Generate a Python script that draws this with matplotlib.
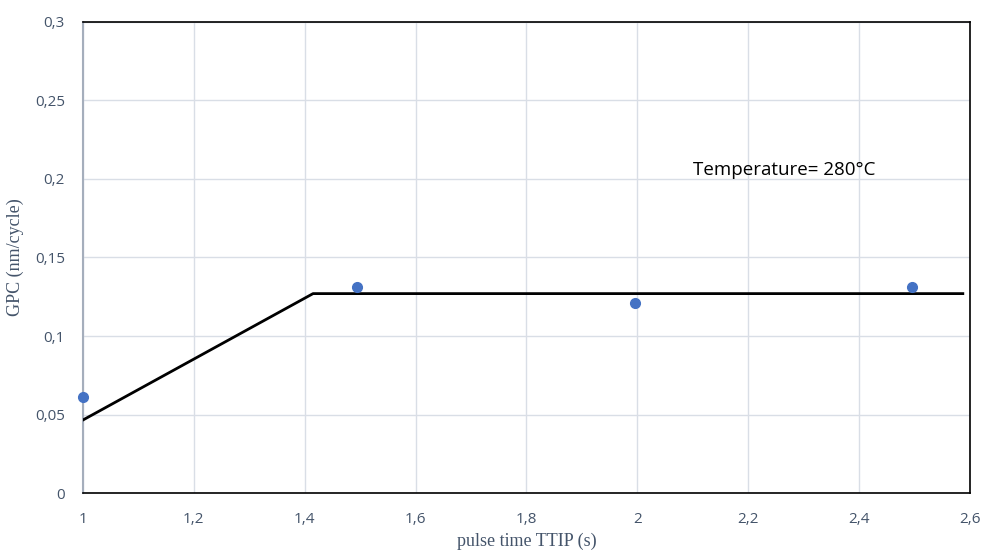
import matplotlib.pyplot as plt
from matplotlib.ticker import FuncFormatter, MultipleLocator

# datos medidos
pulse_time = [1.0, 1.495, 1.995, 2.495]
gpc = [0.061, 0.131, 0.121, 0.131]

# tendencia (saturacion)
trend_x = [1.0, 1.415, 2.587]
trend_y = [0.0465, 0.127, 0.127]

tick_color = '#44546A'

fig = plt.figure(figsize=(9.83, 5.54), dpi=100)
ax = fig.add_axes([0.0844, 0.1101, 0.9024, 0.8502])

ax.plot(trend_x, trend_y, color='black', lw=2, zorder=3)
ax.plot(pulse_time, gpc, 'o', color='#4472C4', ms=7, zorder=4, clip_on=False)

ax.set_xlim(1, 2.6)
ax.set_ylim(0, 0.3)
ax.xaxis.set_major_locator(MultipleLocator(0.2))
ax.yaxis.set_major_locator(MultipleLocator(0.05))

fmt = FuncFormatter(lambda v, p: ('%g' % round(v, 2)).replace('.', ','))
ax.xaxis.set_major_formatter(fmt)
ax.yaxis.set_major_formatter(fmt)

ax.grid(True, color='#D9DEE6', lw=1)
ax.set_axisbelow(True)
ax.tick_params(length=0, colors=tick_color, labelsize=11)
ax.tick_params(axis='x', pad=14)
ax.tick_params(axis='y', pad=13)
for lbl in ax.get_xticklabels() + ax.get_yticklabels():
    lbl.set_fontfamily('Open Sans')

for s in ['top', 'right', 'bottom']:
    ax.spines[s].set_color('black')
    ax.spines[s].set_linewidth(1.2)
ax.spines['left'].set_color('#A5AEBC')
ax.spines['left'].set_linewidth(1.5)

ax.set_xlabel('pulse time TTIP (s)', family='Liberation Serif', fontsize=13,
              color=tick_color, labelpad=4)
ax.set_ylabel('GPC (nm/cycle)', family='Liberation Serif', fontsize=13,
              color=tick_color, labelpad=8)

ax.text(2.1, 0.206, 'Temperature= 280°C', family='Open Sans', fontsize=13.5,
        va='center', ha='left', color='black')

plt.savefig('out.png', dpi=100)
